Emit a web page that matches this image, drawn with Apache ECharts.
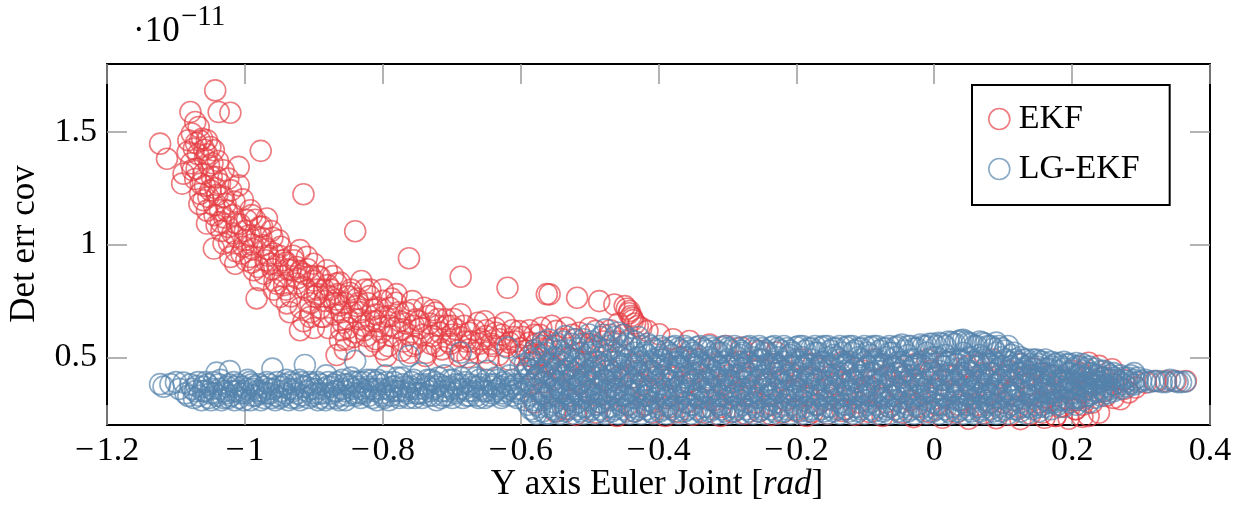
<!DOCTYPE html>
<html>
<head>
<meta charset="utf-8">
<script src="https://cdn.jsdelivr.net/npm/echarts@6/dist/echarts.min.js"></script>
<style>
html,body{margin:0;padding:0;background:#fff;}
#chart{width:1247px;height:506px;}
</style>
</head>
<body>
<div id="chart"></div>
<script>
// ---- Data (values in units of 1e-11) ----
const xTicks = [-1.2, -1, -0.8, -0.6, -0.4, -0.2, 0, 0.2, 0.4];
const yTicks = [0.5, 1, 1.5];
const seriesNames = ['EKF', 'LG-EKF'];

// EKF: upper decaying branch
const ekfUpper = [
[-1.043,1.683],[-1.038,1.587],[-1.021,1.584],[-1.079,1.587],[-1.072,1.543],[-1.067,1.521],[-1.077,1.492],[-1.062,1.469],[-1.055,1.462],[-1.082,1.462],[-1.074,1.425],[-1.050,1.432],[-1.045,1.418],[-1.123,1.447],[-1.113,1.380],[-0.977,1.415],[-1.009,1.344],[-1.031,1.329],[-1.070,1.336],[-1.089,1.314],[-1.091,1.270],[-1.060,1.314],[-1.041,1.299],[-1.024,1.292],[-1.009,1.262],[-1.065,1.225],[-1.060,1.196],[-1.045,1.174],[-1.031,1.211],[-0.915,1.223],
[-1.068,1.40],[-1.058,1.38],[-1.078,1.36],[-1.052,1.35],[-1.036,1.27],[-1.05,1.24],[-1.072,1.29],[-1.02,1.24],[-1.04,1.22],[-1.055,1.15],[-1.066,1.18],
[-1.055,1.093],[-1.041,1.085],[-1.036,1.152],[-1.024,1.078],[-1.012,1.093],[-0.992,1.152],[-0.968,1.115],[-0.997,1.108],[-0.978,1.078],[-1.045,0.982],[-1.031,1.004],[-1.012,1.034],[-1.002,0.990],[-1.021,0.945],[-1.014,0.915],[-0.992,0.945],[-0.983,1.034],[-0.973,0.997],[-0.958,0.960],[-0.987,0.886],[-0.978,0.842],[-0.983,0.761],[-0.963,0.915],[-0.951,1.019],[-0.944,0.930],[-0.954,0.827],[-0.949,0.768],[-0.939,0.739],[-0.934,0.886],[-0.920,0.975],[-0.910,0.945],[-0.900,0.915],[-0.925,0.827],[-0.910,0.797],[-0.891,0.856],[-0.881,0.886],[-0.920,0.620],[-0.905,0.679],[-0.886,0.679],[-0.876,0.768],[-0.867,0.827],[-0.862,0.576],[-0.867,0.51],
[-1.03,1.12],[-1.018,1.05],[-1.0,1.06],[-0.99,1.0],[-1.005,0.96],[-0.968,0.98],[-0.96,0.89],[-0.97,0.93],[-0.945,0.86],[-0.93,0.95],[-0.94,0.8],[-0.925,0.9],[-0.915,0.87],[-0.9,0.84],[-0.895,0.78],[-0.905,0.74],[-0.89,0.72],[-0.88,0.82],[-0.87,0.74],[-0.935,0.7],[-0.915,0.66],[-0.9,0.63],[-0.958,0.8],[-0.99,0.92],
[-0.840,1.059],[-0.762,0.939],[-0.687,0.857],[-0.619,0.808],[-0.562,0.780],[-0.872,0.860],[-0.862,0.831],[-0.831,0.838],[-0.848,0.786],[-0.819,0.771],[-0.867,0.756],[-0.838,0.727],[-0.814,0.712],[-0.858,0.653],[-0.834,0.668],[-0.853,0.579],[-0.855,0.535],[-0.824,0.594],[-0.805,0.638],[-0.781,0.742],[-0.757,0.749],[-0.766,0.698],[-0.790,0.683],[-0.786,0.594],[-0.800,0.535],[-0.771,0.624],[-0.752,0.668],[-0.757,0.550],[-0.733,0.683],[-0.723,0.698],[-0.709,0.668],[-0.687,0.691],[-0.694,0.624],[-0.728,0.594],[-0.714,0.535],[-0.738,0.506],[-0.674,0.609],[-0.662,0.653],[-0.650,0.594],[-0.636,0.609],[-0.623,0.653],[-0.616,0.565],[-0.602,0.616],[-0.587,0.565],[-0.570,0.631],[-0.587,0.506],[-0.563,0.535],[-0.558,0.476],[-0.674,0.535],[-0.650,0.521],[-0.689,0.506],[-0.795,0.506],
[-0.845,0.70],[-0.828,0.64],[-0.81,0.69],[-0.80,0.75],[-0.79,0.72],[-0.775,0.66],[-0.745,0.63],[-0.74,0.72],[-0.72,0.64],[-0.70,0.60],[-0.705,0.57],[-0.68,0.57],[-0.66,0.56],[-0.64,0.55],[-0.63,0.58],[-0.61,0.59],[-0.60,0.54],[-0.58,0.60],[-0.82,0.55],[-0.84,0.61],[-0.77,0.57],[-0.76,0.52],[-0.73,0.56],[-0.81,0.58],[-0.86,0.70],[-0.826,0.80],[-0.80,0.80],[-0.85,0.63],[-0.78,0.78],
[-0.558,0.779],[-0.518,0.764],[-0.486,0.749],[-0.464,0.734],[-0.449,0.727],[-0.442,0.705],[-0.440,0.683],[-0.437,0.665],[-0.430,0.639],[-0.416,0.617],[-0.399,0.602],[-0.379,0.580],[-0.355,0.572],[-0.326,0.557],[-0.302,0.550],[-0.280,0.543],[-0.253,0.528],[-0.229,0.521],[-0.548,0.617],[-0.534,0.631],[-0.515,0.609],[-0.491,0.617],
[-0.446,0.715],[-0.443,0.695],[-0.438,0.675],[-0.434,0.65],[-0.425,0.63],[-0.52,0.58],[-0.50,0.56],[-0.47,0.60],[-0.46,0.57],[-0.55,0.55],[-0.53,0.50],
[-0.555,0.64],[-0.54,0.58],[-0.525,0.60],[-0.51,0.56],[-0.50,0.63],[-0.495,0.53],[-0.48,0.57],[-0.47,0.62],[-0.458,0.65],[-0.45,0.60],
[-1.083,1.41],[-1.076,1.33],[-1.071,1.45],[-1.064,1.27],[-1.059,1.42],[-1.053,1.21],[-1.048,1.30],[-1.044,1.13],[-1.039,1.37],[-1.034,1.06],[-1.028,1.18],[-1.023,1.01],[-1.017,1.13],[-1.013,0.97],[-1.007,1.09],[-1.003,1.20],[-0.998,0.93],[-0.994,1.04],[-0.989,0.98],[-0.985,1.11],[-0.981,0.90],[-0.976,1.03],[-0.972,0.87],[-0.966,0.95],[-0.962,1.06],[-0.957,0.84],[-0.953,0.91],[-0.948,0.99],[-0.943,0.82],[-0.938,0.89],[-0.933,0.77],[-0.929,0.93],[-0.924,0.85],[-0.919,0.72],[-0.914,0.81],[-0.909,0.89],[-0.904,0.70],[-0.899,0.77],[-0.894,0.86],[-0.889,0.68],[-0.884,0.75],[-0.879,0.63],[-0.875,0.80],[-0.87,0.69],[-0.865,0.78],[-0.86,0.62],[-0.855,0.74],[-0.851,0.67],[-0.846,0.80],[-0.842,0.59],[-0.837,0.76],[-0.832,0.70],[-0.827,0.62],[-0.822,0.74],[-0.817,0.66],[-0.812,0.57],[-0.807,0.72],[-0.802,0.61],[-0.797,0.68],[-0.792,0.55],[-0.787,0.76],[-0.782,0.63],[-0.777,0.70],[-0.772,0.53],[-0.767,0.65],[-0.762,0.60],[-0.757,0.71],[-0.752,0.56],[-0.747,0.66],[-0.742,0.60],[-0.737,0.52],[-0.732,0.65],[-0.727,0.71],[-0.722,0.55],[-0.717,0.61],[-0.712,0.50],[-0.707,0.64],[-0.702,0.56],[-0.697,0.67],[-0.692,0.53],[-0.687,0.59],[-0.682,0.64],[-0.677,0.50],[-0.672,0.57],[-0.667,0.62],[-0.662,0.52],[-0.657,0.58],[-0.652,0.66],[-0.647,0.49],[-0.642,0.56],[-0.637,0.63],[-0.632,0.51],[-0.627,0.60],[-0.622,0.55],[-0.617,0.49],[-0.612,0.62],[-0.607,0.57],[-0.602,0.51],[-0.597,0.59],[-0.592,0.53],[-0.587,0.62],[-0.582,0.48],[-0.577,0.56],[-0.572,0.60],[-0.567,0.51],[-0.562,0.57],
[-1.065,1.46],[-1.055,1.40],[-1.047,1.36],[-1.058,1.26],[-1.043,1.25],[-1.026,1.15],[-1.015,1.19],[-1.035,1.10],[-0.99,1.13],[-1.0,1.02],[-0.975,1.08],[-0.96,1.03],[-0.95,0.95],[-0.94,0.92],[-0.92,0.88],[-0.905,0.86],[-0.895,0.80],[-0.885,0.80],[-0.862,0.73],[-0.85,0.77],[-0.818,0.80],[-0.835,0.74],[-0.79,0.64],[-0.81,0.66],[-0.755,0.64],[-0.72,0.67],[-0.70,0.64],[-0.65,0.62]
];

// EKF: points inside / below the LG-EKF band and the right tail
const ekfLower = [
[-0.59,0.45],[-0.585,0.38],[-0.575,0.42],[-0.57,0.34],[-0.56,0.47],[-0.552,0.40],[-0.545,0.36],[-0.538,0.44],[-0.53,0.31],[-0.522,0.49],[-0.515,0.38],[-0.508,0.42],[-0.5,0.35],[-0.492,0.46],[-0.485,0.30],[-0.478,0.40],[-0.47,0.44],[-0.462,0.36],[-0.455,0.50],[-0.448,0.33],[-0.44,0.41],[-0.432,0.47],[-0.425,0.38],[-0.418,0.29],[-0.41,0.44],[-0.402,0.36],[-0.395,0.49],[-0.388,0.32],[-0.38,0.41],[-0.372,0.46],[-0.365,0.37],[-0.358,0.30],[-0.35,0.43],[-0.342,0.49],[-0.335,0.35],[-0.328,0.40],[-0.32,0.31],[-0.312,0.46],[-0.305,0.38],[-0.298,0.42],[-0.29,0.33],[-0.282,0.48],[-0.275,0.36],[-0.268,0.41],[-0.26,0.30],[-0.252,0.45],[-0.245,0.38],[-0.238,0.34],[-0.23,0.47],[-0.222,0.40],[-0.215,0.31],[-0.208,0.43],[-0.2,0.36],[-0.192,0.49],[-0.185,0.33],[-0.178,0.41],[-0.17,0.29],[-0.162,0.45],[-0.155,0.37],[-0.148,0.42],[-0.14,0.32],[-0.132,0.48],[-0.125,0.35],[-0.118,0.40],[-0.11,0.30],[-0.102,0.44],[-0.095,0.37],[-0.088,0.49],[-0.08,0.33],[-0.072,0.41],[-0.065,0.28],[-0.058,0.46],[-0.05,0.36],[-0.042,0.42],[-0.035,0.31],[-0.028,0.47],[-0.02,0.38],[-0.012,0.34],[-0.005,0.44],[0.003,0.29],[0.01,0.40],[0.018,0.48],[0.025,0.35],[0.032,0.42],[0.04,0.31],[0.048,0.46],[0.055,0.37],[0.062,0.29],[0.07,0.43],[0.078,0.34],[0.085,0.49],[0.092,0.38],[0.1,0.30],[0.108,0.44],[0.115,0.36],[0.122,0.28],[0.13,0.41],[0.138,0.33],[0.145,0.45],[0.152,0.30],[0.16,0.38],[0.168,0.42],[0.175,0.34],[0.182,0.28],[0.19,0.40],[0.198,0.36],[0.205,0.31],[0.212,0.43],[0.22,0.37],
[-0.58,0.30],[-0.58,0.50],[-0.565,0.39],[-0.548,0.45],[-0.535,0.27],[-0.52,0.40],[-0.505,0.48],[-0.49,0.33],[-0.475,0.51],[-0.46,0.41],[-0.445,0.29],[-0.43,0.44],[-0.415,0.35],[-0.4,0.42],[-0.385,0.28],[-0.37,0.50],[-0.355,0.39],[-0.34,0.32],[-0.325,0.45],[-0.31,0.28],[-0.295,0.37],[-0.28,0.43],[-0.265,0.33],[-0.25,0.49],[-0.235,0.29],[-0.22,0.44],[-0.205,0.35],[-0.19,0.41],[-0.175,0.47],[-0.16,0.31],[-0.145,0.38],[-0.13,0.27],[-0.115,0.45],[-0.1,0.34],[-0.085,0.40],[-0.07,0.30],[-0.055,0.43],[-0.04,0.37],[-0.025,0.28],[-0.01,0.49],[0.005,0.36],[0.02,0.42],[0.035,0.29],[0.05,0.38],[0.065,0.47],[0.08,0.30],[0.095,0.42],[0.11,0.34],[0.125,0.47],[0.14,0.38],[0.155,0.43],[0.17,0.31],[0.185,0.36],[0.2,0.44],[0.215,0.29],[0.23,0.38],[0.245,0.35],[0.26,0.32],[0.275,0.36],
[-0.55,0.26],[-0.52,0.245],[-0.49,0.255],[-0.46,0.24],[-0.435,0.26],[-0.409,0.255],[-0.39,0.24],[-0.371,0.258],[-0.35,0.245],[-0.332,0.255],[-0.31,0.24],[-0.293,0.258],[-0.274,0.25],[-0.255,0.26],[-0.236,0.245],[-0.22,0.255],[-0.2,0.262],[-0.185,0.24],[-0.176,0.258],[-0.155,0.25],[-0.133,0.262],[-0.115,0.245],[-0.094,0.258],[-0.075,0.24],[-0.046,0.255],[-0.03,0.235],[-0.007,0.258],[0.012,0.232],[0.032,0.255],[0.05,0.228],[0.071,0.252],[0.09,0.23],[0.11,0.245],[0.125,0.226],[0.14,0.25],[0.16,0.232],[0.176,0.24],[0.195,0.228],[0.205,0.27],[0.215,0.236],
[0.365,0.395],[0.35,0.395],[0.336,0.395],[0.321,0.395],[0.307,0.388],[0.292,0.366],[0.282,0.344],[0.27,0.314],[0.258,0.447],[0.239,0.462],[0.224,0.476],[0.239,0.255],[0.224,0.24],[0.205,0.27],[0.186,0.284],[0.229,0.299],[0.249,0.329],[0.215,0.344],[0.176,0.24],[0.157,0.255],[0.26,0.38],[0.245,0.41],[0.275,0.40]
];

// LG-EKF: left flat branch
const lgLeft = [
[-1.123,0.381],[-1.108,0.381],[-1.089,0.388],[-1.082,0.329],[-1.076,0.36],[-1.070,0.373],[-1.066,0.33],[-1.061,0.35],[-1.057,0.39],[-1.052,0.32],[-1.048,0.36],[-1.043,0.34],[-1.041,0.432],[-1.038,0.38],[-1.034,0.31],[-1.03,0.35],[-1.026,0.37],[-1.022,0.439],[-1.02,0.33],[-1.016,0.39],[-1.012,0.35],[-1.008,0.32],[-1.004,0.37],[-1.0,0.34],[-0.996,0.40],[-0.992,0.31],[-0.988,0.36],[-0.984,0.33],[-0.98,0.38],[-0.976,0.35],[-0.972,0.32],[-0.968,0.39],[-0.964,0.34],[-0.96,0.45],[-0.956,0.31],[-0.952,0.37],[-0.948,0.35],[-0.944,0.33],[-0.94,0.40],[-0.936,0.36],[-0.932,0.32],[-0.928,0.38],[-0.924,0.34],[-0.92,0.31],[-0.916,0.37],[-0.913,0.466],[-0.91,0.35],[-0.906,0.39],[-0.902,0.33],[-0.898,0.36],[-0.894,0.31],[-0.89,0.38],[-0.886,0.34],[-0.882,0.42],[-0.878,0.32],[-0.874,0.37],[-0.87,0.35],[-0.866,0.39],[-0.862,0.33],[-0.858,0.36],[-0.854,0.31],[-0.85,0.38],[-0.846,0.41],[-0.842,0.34],[-0.84,0.484],[-0.836,0.37],[-0.832,0.32],[-0.828,0.39],[-0.824,0.35],[-0.82,0.33],[-0.816,0.40],[-0.812,0.36],[-0.808,0.31],[-0.804,0.38],[-0.8,0.34],[-0.796,0.42],[-0.792,0.36],[-0.788,0.33],[-0.784,0.39],[-0.78,0.35],[-0.776,0.32],[-0.772,0.41],[-0.768,0.37],[-0.764,0.34],[-0.762,0.506],[-0.758,0.39],[-0.754,0.32],[-0.75,0.36],[-0.746,0.43],[-0.742,0.34],[-0.738,0.38],[-0.734,0.33],[-0.73,0.40],[-0.726,0.36],[-0.722,0.31],[-0.718,0.38],[-0.714,0.35],[-0.71,0.42],[-0.706,0.33],[-0.702,0.37],[-0.698,0.40],[-0.694,0.34],[-0.69,0.36],[-0.687,0.521],[-0.684,0.32],[-0.68,0.39],[-0.676,0.35],[-0.672,0.43],[-0.668,0.37],[-0.664,0.33],[-0.66,0.40],[-0.656,0.36],[-0.652,0.32],[-0.648,0.44],[-0.644,0.38],[-0.64,0.34],[-0.636,0.41],[-0.632,0.36],[-0.628,0.32],[-0.624,0.39],[-0.62,0.35],[-0.619,0.543],[-0.616,0.42],[-0.612,0.33],[-0.608,0.38],[-0.604,0.36],[-0.6,0.46],
[-1.072,0.35],[-1.06,0.37],[-1.05,0.34],[-1.036,0.36],[-1.024,0.32],[-1.014,0.37],[-1.002,0.35],[-0.99,0.38],[-0.978,0.34],[-0.966,0.36],[-0.954,0.33],[-0.942,0.38],[-0.93,0.35],[-0.918,0.39],[-0.904,0.36],[-0.892,0.34],[-0.88,0.37],[-0.868,0.32],[-0.856,0.38],[-0.844,0.36],[-0.834,0.34],[-0.822,0.37],[-0.81,0.39],[-0.798,0.32],[-0.786,0.37],[-0.774,0.35],[-0.76,0.36],[-0.748,0.34],[-0.736,0.37],[-0.724,0.39],[-0.712,0.33],[-0.7,0.36],[-0.688,0.38],[-0.674,0.33],[-0.662,0.37],[-0.65,0.35],[-0.638,0.38],[-0.626,0.34],[-0.614,0.37],[-0.602,0.34],
[-1.118,0.37],[-1.1,0.39],[-1.095,0.36],[-1.086,0.34],[-1.079,0.38],[-1.074,0.32],[-1.068,0.39],[-1.063,0.31],[-1.058,0.35],[-1.054,0.38],[-1.049,0.31],[-1.045,0.39],[-1.04,0.33],[-1.035,0.40],[-1.031,0.32],[-1.027,0.34],[-1.023,0.38],[-1.018,0.35],[-1.015,0.31],[-1.01,0.38],[-1.006,0.34],[-1.001,0.31],[-0.997,0.36],[-0.993,0.39],[-0.989,0.33],[-0.986,0.37],[-0.982,0.35],[-0.977,0.31],[-0.973,0.37],[-0.969,0.34],[-0.965,0.38],[-0.961,0.32],[-0.958,0.36],[-0.953,0.39],[-0.949,0.32],[-0.946,0.37],[-0.941,0.34],[-0.937,0.31],[-0.934,0.39],[-0.929,0.36],[-0.925,0.32],[-0.921,0.40],[-0.917,0.33],[-0.912,0.37],[-0.908,0.32],[-0.903,0.38],[-0.899,0.34],[-0.895,0.39],[-0.891,0.32],[-0.887,0.36],[-0.883,0.31],[-0.879,0.39],[-0.875,0.34],[-0.871,0.38],[-0.867,0.35],[-0.863,0.31],[-0.859,0.40],[-0.855,0.35],[-0.851,0.33],[-0.847,0.37],[-0.843,0.39],[-0.839,0.33],[-0.835,0.39],[-0.831,0.36],[-0.827,0.34],[-0.823,0.40],[-0.819,0.36],[-0.815,0.32],[-0.811,0.35],[-0.807,0.40],[-0.803,0.36],[-0.799,0.33],[-0.795,0.39],[-0.791,0.31],[-0.787,0.35],[-0.783,0.37],[-0.779,0.41],[-0.775,0.33],[-0.771,0.38],[-0.767,0.35],[-0.763,0.32],[-0.759,0.37],[-0.755,0.40],[-0.751,0.34],[-0.747,0.38],[-0.743,0.32],[-0.739,0.36],[-0.735,0.40],[-0.731,0.35],[-0.727,0.33],[-0.723,0.37],[-0.719,0.41],[-0.715,0.32],[-0.711,0.37],[-0.707,0.35],[-0.703,0.40],[-0.699,0.32],[-0.695,0.38],[-0.691,0.35],[-0.686,0.41],[-0.682,0.36],[-0.678,0.33],[-0.673,0.38],[-0.669,0.35],[-0.665,0.41],[-0.661,0.32],[-0.657,0.38],[-0.653,0.35],[-0.649,0.40],[-0.645,0.33],[-0.641,0.37],[-0.637,0.35],[-0.633,0.40],[-0.629,0.37],[-0.625,0.33],[-0.621,0.38],[-0.617,0.36],[-0.613,0.40],[-0.609,0.35],[-0.605,0.32],[-0.601,0.38]
];

// LG-EKF: dense right branch, one row per x position: [x, y1, y2, ...]
const lgRightRows = [
[-0.594,.31,.35,.40,.43,.47],
[-0.585,.27,.33,.38,.42,.49],
[-0.577,.25,.29,.36,.41,.45,.52],
[-0.568,.26,.31,.34,.39,.44,.55,.568],
[-0.559,.25,.28,.33,.37,.42,.47,.579],
[-0.551,.27,.30,.35,.40,.45,.50],
[-0.543,.25,.32,.36,.39,.43,.48,.53],
[-0.535,.26,.29,.34,.38,.44,.51,.594],
[-0.526,.25,.31,.33,.37,.41,.46,.56],
[-0.517,.27,.30,.35,.42,.45,.49,.54],
[-0.509,.25,.28,.32,.37,.40,.47,.58],
[-0.501,.26,.31,.34,.39,.44,.52,.601],
[-0.492,.25,.29,.36,.41,.43,.48,.55],
[-0.484,.27,.30,.33,.38,.46,.50,.59],
[-0.477,.25,.32,.35,.40,.44,.53,.624],
[-0.468,.26,.28,.34,.37,.42,.49,.57],
[-0.459,.25,.31,.36,.39,.45,.51,.61],
[-0.451,.27,.30,.33,.41,.43,.47,.55,.60],
[-0.442,.25,.29,.35,.38,.44,.50,.58],
[-0.434,.26,.32,.34,.40,.46,.52,.57],
[-0.425,.25,.28,.36,.39,.42,.48,.55],
[-0.416,.27,.31,.33,.37,.45,.51,.56],
[-0.407,.25,.30,.35,.41,.43,.49,.54],
[-0.398,.26,.29,.34,.38,.46,.50,.55],
[-0.389,.25,.32,.36,.40,.44,.47,.53],
[-0.380,.27,.28,.33,.39,.42,.51,.545],
[-0.371,.25,.31,.35,.37,.45,.48,.54],
[-0.362,.26,.30,.34,.41,.43,.50,.55],
[-0.353,.25,.29,.36,.38,.44,.49,.53],
[-0.344,.27,.32,.33,.40,.46,.51,.545],
[-0.335,.25,.28,.35,.39,.42,.47,.54],
[-0.326,.26,.31,.34,.37,.45,.50,.55],
[-0.317,.25,.30,.36,.41,.43,.48,.53],
[-0.308,.27,.29,.33,.38,.44,.52,.545],
[-0.299,.25,.32,.35,.40,.46,.49,.54],
[-0.290,.26,.28,.34,.39,.42,.47,.55],
[-0.281,.25,.31,.36,.37,.45,.51,.53],
[-0.272,.27,.30,.33,.41,.43,.48,.545],
[-0.263,.25,.29,.35,.38,.44,.50,.54],
[-0.254,.26,.32,.34,.40,.46,.49,.55],
[-0.245,.25,.28,.36,.39,.42,.52,.53],
[-0.236,.27,.31,.33,.37,.45,.47,.545],
[-0.227,.25,.30,.35,.41,.43,.50,.54],
[-0.218,.26,.29,.34,.38,.44,.48,.55],
[-0.209,.25,.32,.36,.40,.46,.51,.53],
[-0.200,.27,.28,.33,.39,.42,.49,.545],
[-0.191,.25,.31,.35,.37,.45,.50,.55],
[-0.182,.26,.30,.34,.41,.43,.47,.54],
[-0.173,.25,.29,.36,.38,.44,.52,.55],
[-0.164,.27,.32,.33,.40,.46,.48,.545],
[-0.155,.25,.28,.35,.39,.42,.50,.55],
[-0.146,.26,.31,.34,.37,.45,.51,.54],
[-0.137,.25,.30,.36,.41,.43,.49,.55],
[-0.128,.27,.29,.33,.38,.44,.47,.545],
[-0.119,.25,.32,.35,.40,.46,.52,.55],
[-0.110,.26,.28,.34,.39,.42,.50,.54],
[-0.101,.25,.31,.36,.37,.45,.48,.55],
[-0.092,.27,.30,.33,.41,.43,.51,.545],
[-0.083,.25,.29,.35,.38,.44,.49,.55],
[-0.074,.26,.32,.34,.40,.46,.47,.54],
[-0.065,.25,.28,.36,.39,.42,.52,.55],
[-0.056,.27,.31,.33,.37,.45,.50,.545],
[-0.047,.25,.30,.35,.41,.43,.48,.557],
[-0.038,.26,.29,.34,.38,.44,.51,.55],
[-0.029,.25,.32,.36,.40,.46,.49,.54],
[-0.020,.27,.28,.33,.39,.42,.47,.557],
[-0.011,.25,.31,.35,.37,.45,.52,.55],
[-0.002,.26,.30,.34,.41,.43,.50,.56],
[0.007,.25,.29,.36,.38,.44,.48,.564],
[0.016,.27,.32,.33,.40,.46,.51,.55],
[0.025,.25,.28,.35,.39,.42,.49,.566],
[0.034,.26,.31,.34,.37,.45,.47,.57],
[0.042,.25,.30,.36,.41,.43,.52,.578],
[0.050,.27,.29,.33,.38,.44,.50,.564],
[0.058,.25,.32,.35,.40,.46,.48,.55],
[0.066,.26,.28,.34,.39,.42,.51,.57],
[0.074,.25,.31,.36,.37,.45,.49,.56],
[0.082,.27,.30,.33,.41,.43,.47,.55],
[0.090,.25,.29,.35,.38,.44,.52,.565],
[0.098,.26,.32,.34,.40,.46,.50,.54],
[0.107,.25,.28,.36,.39,.42,.48,.55],
[0.116,.27,.31,.33,.37,.45,.49,.52],
[0.125,.26,.30,.35,.41,.43,.47,.50],
[0.134,.25,.29,.34,.38,.44,.46,.49],
[0.143,.27,.32,.36,.40,.42,.45,.49],
[0.152,.26,.28,.33,.39,.41,.47,.485],
[0.161,.28,.31,.35,.37,.43,.45,.49],
[0.170,.27,.30,.34,.38,.42,.46,.48],
[0.179,.29,.33,.36,.40,.44,.475],
[0.188,.28,.31,.35,.39,.41,.45,.48],
[0.197,.30,.34,.37,.40,.43,.47],
[0.206,.29,.32,.36,.38,.42,.46,.475],
[0.215,.31,.35,.37,.41,.44,.47],
[0.224,.30,.33,.36,.39,.43,.46],
[0.233,.32,.35,.38,.40,.42,.45],
[0.242,.33,.36,.39,.41,.44],
[0.251,.34,.37,.40,.43],
[0.260,.35,.38,.41,.43],
[0.270,.36,.39,.42],
[0.280,.37,.395,.41],
[0.290,.38,.40,.43],
[0.300,.395],
[0.312,.39],
[0.324,.395],
[0.336,.39],
[0.348,.395],
[0.358,.39],
[0.364,.392],
[-0.589,.29,.37,.45],
[-0.580,.26,.31,.40,.47,.53],
[-0.572,.28,.35,.43,.50],
[-0.563,.25,.32,.41,.46,.52],
[-0.555,.29,.36,.43,.54],
[-0.547,.26,.33,.38,.47,.56],
[-0.539,.28,.35,.42,.50,.57],
[-0.530,.27,.32,.40,.45,.53],
[-0.522,.29,.36,.43,.48,.58],
[-0.513,.26,.33,.39,.46,.52],
[-0.505,.28,.35,.42,.50,.56],
[-0.497,.27,.32,.38,.45,.57],
[-0.488,.29,.36,.42,.48,.54],
[-0.480,.26,.34,.40,.47,.60],
[-0.472,.28,.31,.39,.45,.55],
[-0.463,.27,.35,.43,.48,.59],
[-0.455,.29,.33,.40,.46,.53],
[-0.446,.26,.36,.42,.49,.56],
[-0.438,.28,.32,.39,.47,.54],
[-0.429,.27,.35,.43,.50,.59],
[-0.420,.29,.33,.40,.46,.52],
[-0.412,.26,.36,.44,.48,.55],
[-0.403,.28,.32,.39,.47,.53],
[-0.394,.27,.35,.42,.49,.54],
[-0.385,.29,.33,.40,.45,.52],
[-0.376,.26,.36,.43,.48,.55],
[-0.367,.28,.32,.39,.46,.53],
[-0.358,.27,.35,.42,.50,.54],
[-0.349,.29,.33,.40,.47,.52],
[-0.340,.26,.36,.43,.48,.55],
[-0.331,.28,.32,.39,.45,.53],
[-0.322,.27,.35,.42,.49,.54],
[-0.313,.29,.33,.40,.46,.52],
[-0.304,.26,.36,.43,.48,.55],
[-0.295,.28,.32,.39,.47,.53],
[-0.286,.27,.35,.42,.50,.54],
[-0.277,.29,.33,.40,.45,.52],
[-0.268,.26,.36,.43,.48,.55],
[-0.259,.28,.32,.39,.46,.53],
[-0.250,.27,.35,.42,.49,.54],
[-0.241,.29,.33,.40,.47,.52],
[-0.232,.26,.36,.43,.48,.55],
[-0.223,.28,.32,.39,.45,.53],
[-0.214,.27,.35,.42,.50,.54],
[-0.205,.29,.33,.40,.46,.52],
[-0.196,.26,.36,.43,.48,.55],
[-0.187,.28,.32,.39,.47,.53],
[-0.178,.27,.35,.42,.49,.54],
[-0.169,.29,.33,.40,.45,.52],
[-0.160,.26,.36,.43,.48,.55],
[-0.151,.28,.32,.39,.46,.53],
[-0.142,.27,.35,.42,.50,.54],
[-0.133,.29,.33,.40,.47,.52],
[-0.124,.26,.36,.43,.48,.55],
[-0.115,.28,.32,.39,.45,.53],
[-0.106,.27,.35,.42,.49,.54],
[-0.097,.29,.33,.40,.46,.52],
[-0.088,.26,.36,.43,.48,.55],
[-0.079,.28,.32,.39,.47,.53],
[-0.070,.27,.35,.42,.50,.54],
[-0.061,.29,.33,.40,.45,.52],
[-0.052,.26,.36,.43,.48,.55],
[-0.043,.28,.32,.39,.46,.53],
[-0.034,.27,.35,.42,.49,.55],
[-0.025,.29,.33,.40,.47,.54],
[-0.016,.26,.36,.43,.48,.55],
[-0.007,.28,.32,.39,.45,.56],
[0.003,.27,.35,.42,.50,.55],
[0.012,.29,.33,.40,.46,.56],
[0.021,.26,.36,.43,.48,.57],
[0.030,.28,.32,.39,.47,.56],
[0.038,.27,.35,.42,.49,.575],
[0.046,.29,.33,.40,.45,.57],
[0.054,.26,.36,.43,.48,.56],
[0.062,.28,.32,.39,.46,.55],
[0.070,.27,.35,.42,.50,.565],
[0.078,.29,.33,.40,.47,.55],
[0.086,.26,.36,.43,.48,.54],
[0.094,.28,.32,.39,.45,.55],
[0.103,.27,.35,.42,.49,.53],
[0.112,.29,.33,.40,.46,.51],
[0.121,.27,.36,.43,.48],
[0.130,.28,.32,.39,.45,.49],
[0.139,.28,.35,.42,.47],
[0.148,.29,.33,.40,.46,.49],
[0.157,.29,.36,.43,.48],
[0.166,.30,.34,.39,.45],
[0.175,.30,.35,.42,.47],
[0.184,.31,.37,.40,.46],
[0.193,.31,.36,.43,.47],
[0.202,.32,.34,.39,.45],
[0.211,.32,.38,.42,.46],
[0.220,.33,.36,.41,.45],
[0.229,.34,.38,.43],
[0.238,.35,.39,.42],
[0.247,.35,.38,.41,.44],
[0.256,.36,.40,.42],
[0.265,.37,.40],
[0.275,.38,.41],
[0.285,.385,.42],
[0.295,.39,.41],
[0.306,.40],
[0.318,.395],
[0.330,.39],
[0.342,.40],
[0.353,.39]
];

// ---- Build series data ----
const ekfData = ekfUpper.concat(ekfLower);
const lgData = lgLeft.slice();
lgRightRows.forEach(function (row) {
  for (let i = 1; i < row.length; i++) lgData.push([row[0], row[i]]);
});

const RED = 'rgba(229,62,68,0.85)';
const BLUE = 'rgba(84,131,172,0.85)';
const FONT = 'Liberation Serif';
const fmt = function (v) {
  const r = Math.round(v * 10) / 10;
  return r < 0 ? '\u2212\u200a' + String(-r) : String(r);
};

const chart = echarts.init(document.getElementById('chart'), null, {renderer: 'canvas'});

const axisLineStyle = {color: '#000', width: 2};
const tickStyle = {color: '#9a9a9a', width: 1.5};

chart.setOption({
  animation: false,
  backgroundColor: '#fff',
  grid: {left: 107, right: 37, top: 64, bottom: 81, containLabel: false},
  xAxis: [
    {
      type: 'value', position: 'bottom', min: -1.2, max: 0.4, interval: 0.2,
      axisLine: {show: true, onZero: false, lineStyle: axisLineStyle},
      axisTick: {show: true, inside: true, length: 20, lineStyle: tickStyle},
      axisLabel: {show: true, margin: 9, fontFamily: FONT, fontSize: 34, color: '#000', formatter: fmt},
      splitLine: {show: false}
    },
    {
      type: 'value', position: 'top', min: -1.2, max: 0.4, interval: 0.2,
      axisLine: {show: true, onZero: false, lineStyle: axisLineStyle},
      axisTick: {show: true, inside: true, length: 20, lineStyle: tickStyle},
      axisLabel: {show: false},
      splitLine: {show: false}
    }
  ],
  yAxis: [
    {
      type: 'value', position: 'left', min: 0.2, max: 1.8,
      axisLine: {show: true, onZero: false, lineStyle: axisLineStyle},
      axisTick: {show: true, inside: true, length: 20, lineStyle: tickStyle, customValues: yTicks},
      axisLabel: {show: true, margin: 10, fontFamily: FONT, fontSize: 34, color: '#000', customValues: yTicks, formatter: fmt},
      splitLine: {show: false}
    },
    {
      type: 'value', position: 'right', min: 0.2, max: 1.8,
      axisLine: {show: true, onZero: false, lineStyle: axisLineStyle},
      axisTick: {show: true, inside: true, length: 20, lineStyle: tickStyle, customValues: yTicks},
      axisLabel: {show: false, customValues: yTicks},
      splitLine: {show: false}
    }
  ],
  legend: {
    show: true,
    left: 972, top: 85,
    orient: 'vertical',
    backgroundColor: '#fff',
    borderColor: '#000', borderWidth: 2, borderRadius: 0,
    padding: [17, 30, 19, 16],
    itemGap: 16,
    itemWidth: 21, itemHeight: 21,
    icon: 'circle',
    itemStyle: {color: 'transparent', borderWidth: 1.6},
    textStyle: {fontFamily: FONT, fontSize: 34, color: '#000', padding: [0, 0, 0, 4]},
    data: seriesNames
  },
  series: [
    {
      name: seriesNames[0], type: 'scatter', xAxisIndex: 0, yAxisIndex: 0,
      symbol: 'circle', symbolSize: 21, large: false,
      itemStyle: {color: 'transparent', borderColor: RED, borderWidth: 1.6},
      emphasis: {disabled: true},
      data: ekfData
    },
    {
      name: seriesNames[1], type: 'scatter', xAxisIndex: 0, yAxisIndex: 0,
      symbol: 'circle', symbolSize: 21, large: false,
      itemStyle: {color: 'transparent', borderColor: BLUE, borderWidth: 1.6},
      emphasis: {disabled: true},
      data: lgData
    }
  ],
  graphic: [
    {type: 'text', left: 133, top: 14, style: {text: '\u00b710', fontFamily: FONT, fontSize: 35, fill: '#000'}},
    {type: 'text', left: 181, top: 3, style: {text: '\u221211', fontFamily: FONT, fontSize: 29, fill: '#000'}},
    {type: 'text', x: 657, y: 485, style: {
      text: '{n|Y axis Euler Joint [}{i|rad}{n|]}',
      align: 'center', verticalAlign: 'middle',
      rich: {
        n: {fontFamily: FONT, fontSize: 35, fill: '#000'},
        i: {fontFamily: FONT, fontSize: 35, fontStyle: 'italic', fill: '#000'}
      }
    }},
    {type: 'text', x: 25, y: 244, rotation: Math.PI / 2, style: {
      text: 'Det err cov', fontFamily: FONT, fontSize: 35, fill: '#000', align: 'center', verticalAlign: 'middle'
    }}
  ]
});
</script>
</body>
</html>
